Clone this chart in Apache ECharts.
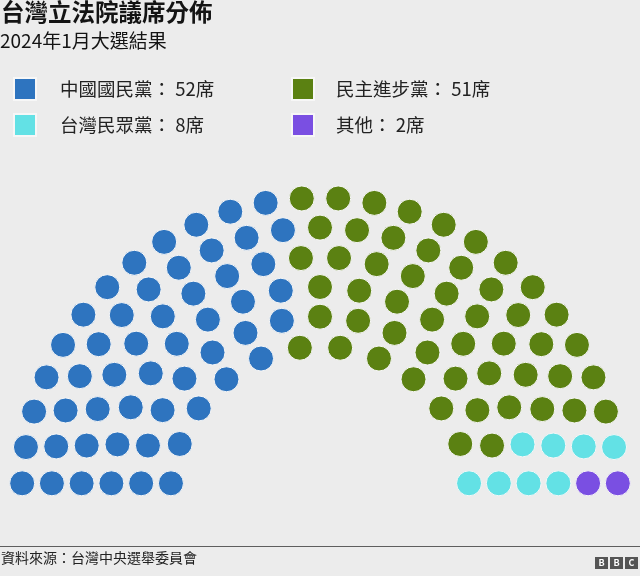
<!DOCTYPE html>
<html>
<head>
<meta charset="utf-8">
<script src="https://cdn.jsdelivr.net/npm/echarts@6/dist/echarts.min.js"></script>
<style>
html, body { margin: 0; padding: 0; background: #ececec; }
#chart { width: 640px; height: 576px; }
</style>
</head>
<body>
<div id="chart"></div>
<script>
// ---- data ----
const parties = ['中國國民黨', '民主進步黨', '台灣民眾黨', '其他'];
const seats = [52, 51, 8, 2];
const seatUnit = '席';
const titleText = '台灣立法院議席分佈';
const subtitleText = '2024年1月大選結果';
const sourceText = '資料來源：台灣中央選舉委員會';

// ---- layout / style ----
const rowCapacity = [12, 15, 17, 20, 23, 26];   // seats per arc, inner to outer
const colors = ['#2e74bf', '#5b8112', '#63e1e5', '#7a4fe2'];
const FONT = "'Noto Sans CJK TC', 'Noto Sans', sans-serif";
const innerR = 149.6, rowGap = 29.7, dotR = 12.7;

// build seat positions (radius, angle) through hemicycle geometry
const all = [];
rowCapacity.forEach((n, i) => {
  const r = innerR + i * rowGap;
  const a0 = Math.asin(dotR / r) * 180 / Math.PI;
  const step = (180 - 2 * a0) / (n - 1);
  for (let j = 0; j < n; j++) all.push({ r: r, a: 180 - a0 - j * step, row: i });
});
all.sort((p, q) => (Math.abs(q.a - p.a) > 1e-6 ? q.a - p.a : p.row - q.row));

let k = 0;
const seriesData = parties.map((p, i) => {
  const d = all.slice(k, k + seats[i]).map(s => [s.r, s.a]);
  k += seats[i];
  return d;
});

const legendPos = [[13, 77], [291, 77], [13, 113], [291, 113]];
const legendPad = [19, 17, 19, 17];

const chart = echarts.init(document.getElementById('chart'), null, { renderer: 'canvas' });
chart.setOption({
  backgroundColor: '#ececec',
  animation: false,
  textStyle: { fontFamily: FONT },
  title: [
    { text: titleText, left: 1, top: 0, padding: 0,
      textStyle: { fontFamily: FONT, fontSize: 23.5, fontWeight: 'bold', color: '#141414' } },
    { text: subtitleText, left: 0, top: 31, padding: 0,
      textStyle: { fontFamily: FONT, fontSize: 19, fontWeight: 'normal', color: '#141414' } },
    { text: sourceText, left: 1, top: 551, padding: 0,
      textStyle: { fontFamily: FONT, fontSize: 14, fontWeight: 'normal', color: '#222222' } }
  ],
  legend: parties.map((p, i) => ({
    data: [p],
    left: legendPos[i][0], top: legendPos[i][1], padding: 0,
    icon: 'rect', itemWidth: 22, itemHeight: 22, selectedMode: false,
    formatter: name => name + '： ' + seats[i] + seatUnit,
    textStyle: { fontFamily: FONT, fontSize: 18.5, color: '#222222', padding: [0, 0, 0, legendPad[i]] }
  })),
  polar: { center: [320, 496], radius: 300 },
  radiusAxis: { min: 0, max: 300, show: false, axisLine: { show: false }, axisTick: { show: false }, axisLabel: { show: false }, splitLine: { show: false } },
  angleAxis: { type: 'value', min: 0, max: 360, startAngle: 0, clockwise: false, show: false,
    axisLine: { show: false }, axisTick: { show: false }, axisLabel: { show: false }, splitLine: { show: false } },
  series: parties.map((p, i) => ({
    name: p, type: 'scatter', coordinateSystem: 'polar',
    symbol: 'circle', symbolSize: 25, silent: true,
    itemStyle: { color: colors[i], borderColor: '#f7f7f7', borderWidth: 1, opacity: 1 },
    data: seriesData[i]
  })),
  graphic: [
    { type: 'line', shape: { x1: 0, y1: 546.5, x2: 640, y2: 546.5 }, style: { stroke: '#5e5e5e', lineWidth: 1 }, silent: true },
    { type: 'group', left: 595, top: 557, silent: true, children: ['B', 'B', 'C'].flatMap((ch, i) => [
      { type: 'rect', shape: { x: i * 15, y: 0, width: 13, height: 12 }, style: { fill: '#555555' } },
      { type: 'text', x: i * 15 + 6.5, y: 6, style: { text: ch, fill: '#ffffff', font: 'bold 9px ' + FONT, align: 'center', verticalAlign: 'middle' } }
    ]) }
  ]
});
</script>
</body>
</html>
